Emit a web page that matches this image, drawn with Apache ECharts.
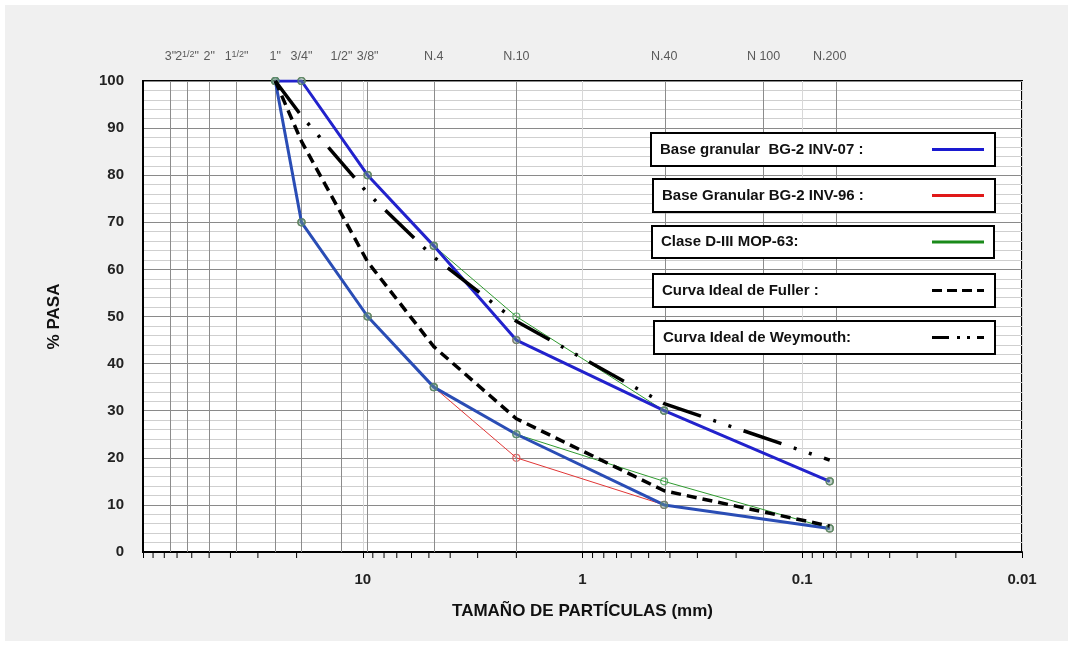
<!DOCTYPE html>
<html>
<head>
<meta charset="utf-8">
<script src="https://cdn.jsdelivr.net/npm/echarts@6/dist/echarts.min.js"></script>
<style>
html,body{margin:0;padding:0;background:#fff;}
#c{width:1073px;height:646px;}
</style>
</head>
<body>
<div id="c"></div>
<script>
// ---- data ----
const sieveSizes = [75, 63, 50, 37.5, 25, 19, 12.5, 9.5, 4.75, 2.0, 0.425, 0.15, 0.075];
const sieveLabels = ['3"', '2{s|1/2}"', '2"', '1{s|1/2}"', '1"', '3/4"', '1/2"', '3/8"', 'N.4', 'N.10', 'N.40', 'N 100', 'N.200'];
const sizes = [25, 19, 9.5, 4.75, 2.0, 0.425, 0.075];
const inv07Upper = [100, 100, 80, 65, 45, 30, 15];
const inv07Lower = [100, 70, 50, 35, 25, 10, 5];
const inv96Upper = [100, 100, 80, 65, 45, 30, 15];
const inv96Lower = [100, 70, 50, 35, 20, 10, 5];
const mopUpper = [100, 100, 80, 65, 50, 30, 15];
const mopLower = [100, 70, 50, 35, 25, 15, 5];
const fuller = [100, 87.2, 61.6, 43.6, 28.3, 13.0, 5.5];
const weymouth = [100, 92.6, 76.2, 62.6, 49.0, 31.5, 19.5];
const minorTicks = [90, 80, 70, 60, 50, 40, 30, 20, 9, 8, 7, 6, 5, 4, 3, 2, 0.9, 0.8, 0.7, 0.6, 0.5, 0.4, 0.3, 0.2, 0.09, 0.08, 0.07, 0.06, 0.05, 0.04, 0.03, 0.02];

const names = ['Base granular  BG-2 INV-07 :', 'Base Granular BG-2 INV-96 :', 'Clase D-III MOP-63:', 'Curva Ideal de Fuller :', 'Curva Ideal de Weymouth:'];
const legendColors = ['#1a1ad0', '#e01818', '#1a8a1a', '#000', '#000'];
const legendDash = [null, null, null, [10, 5], [17, 8, 3, 7, 3, 7]];

const pts = vals => sizes.map((s, i) => [s, vals[i]]);

const FONT = 'Arial, "Liberation Sans", sans-serif';

function lineSeries(name, vals, color, width, type, z) {
  return {
    type: 'line', name: name, data: pts(vals), symbol: 'none', z: z,
    lineStyle: { color: color, width: width, type: type || 'solid' },
    itemStyle: { color: color },
    silent: true, animation: false
  };
}
function markerSeries(valsList, border, fill, z) {
  let d = [];
  valsList.forEach(v => d = d.concat(pts(v)));
  return {
    type: 'scatter', name: 'm' + z, data: d, symbol: 'circle', symbolSize: 7, z: z,
    itemStyle: { color: fill, borderColor: border, borderWidth: 1.2 },
    silent: true, animation: false
  };
}

// legend boxes (decoration)
const boxes = [
  { x: 651, y: 133, w: 344, h: 33 },
  { x: 653, y: 179, w: 342, h: 33 },
  { x: 652, y: 226, w: 342, h: 32 },
  { x: 653, y: 274, w: 342, h: 33 },
  { x: 654, y: 321, w: 341, h: 33 }
];
const legendGraphics = [];
boxes.forEach((b, i) => {
  const cy = b.y + b.h / 2;
  legendGraphics.push({
    type: 'rect', z: 50, silent: true,
    shape: { x: b.x, y: b.y, width: b.w, height: b.h },
    style: { fill: '#fff', stroke: '#000', lineWidth: 2 }
  });
  legendGraphics.push({
    type: 'text', z: 51, silent: true, x: b.x + 9, y: cy,
    style: { text: names[i], fill: '#111', font: 'bold 15px ' + FONT, verticalAlign: 'middle', align: 'left' }
  });
  legendGraphics.push({
    type: 'line', z: 51, silent: true,
    shape: { x1: 932, y1: cy, x2: 984, y2: cy },
    style: { stroke: legendColors[i], lineWidth: 3, lineDash: legendDash[i] || null }
  });
});

const chart = echarts.init(document.getElementById('c'));
chart.setOption({
  animation: false,
  backgroundColor: '#fff',
  graphic: [{ type: 'rect', z: -100, silent: true, shape: { x: 5, y: 5, width: 1063, height: 636 }, style: { fill: '#f0f0f0' } }].concat(legendGraphics),
  grid: { left: 143, right: 51, top: 81, bottom: 94, show: true, backgroundColor: '#fff', borderColor: '#000', borderWidth: 2 },
  xAxis: {
    type: 'log', logBase: 10, min: 0.01, max: 100, inverse: true,
    name: 'TAMAÑO DE PARTÍCULAS (mm)', nameLocation: 'middle', nameGap: 51,
    nameTextStyle: { fontFamily: FONT, fontWeight: 'bold', fontSize: 17, color: '#111' },
    axisLine: { show: true, lineStyle: { color: '#000', width: 2 } },
    axisTick: { show: true, length: 6, lineStyle: { color: '#000' } },
    axisLabel: {
      margin: 20, fontFamily: FONT, fontWeight: 'bold', fontSize: 15, color: '#222',
      formatter: v => (Math.abs(v - 100) < 1e-6 ? '' : String(+v.toPrecision(3)))
    },
    splitLine: { show: true, lineStyle: { color: '#d8d8d8', width: 1 } }
  },
  yAxis: {
    type: 'value', min: 0, max: 100, interval: 10,
    name: '% PASA', nameLocation: 'middle', nameGap: 80,
    nameTextStyle: { fontFamily: FONT, fontWeight: 'bold', fontSize: 17, color: '#111' },
    axisLine: { show: true, lineStyle: { color: '#000', width: 2 } },
    axisTick: { show: false },
    axisLabel: { margin: 19, fontFamily: FONT, fontWeight: 'bold', fontSize: 15, color: '#222' },
    splitLine: { show: true, lineStyle: { color: '#8a8a8a', width: 1 } },
    minorTick: { show: false, splitNumber: 5 },
    minorSplitLine: { show: true, lineStyle: { color: '#cfcfcf', width: 1 } }
  },
  series: [
    {
      type: 'scatter', name: 'sieves', z: 1, silent: true,
      data: sieveSizes.map(s => [s, 100]),
      symbolSize: 1, itemStyle: { color: 'transparent' },
      label: {
        show: true, position: 'top', distance: 17,
        formatter: p => sieveLabels[p.dataIndex],
        fontFamily: FONT, fontSize: 12.5, color: '#333',
        rich: { s: { fontFamily: FONT, fontSize: 9, color: '#333', verticalAlign: 'top', lineHeight: 10 } }
      },
      markLine: {
        silent: true, symbol: 'none', label: { show: false },
        lineStyle: { color: '#8c8c8c', width: 1, type: 'solid' },
        data: sieveSizes.map(s => ({ xAxis: s }))
      }
    },
    {
      type: 'custom', name: 'minorTicks', silent: true, z: 2,
      data: minorTicks.map(v => [v, 0]),
      renderItem: (params, api) => {
        const p = api.coord([api.value(0), 0]);
        return { type: 'line', shape: { x1: p[0], y1: p[1] + 1, x2: p[0], y2: p[1] + 6 }, style: { stroke: '#000', lineWidth: 1 } };
      }
    },
    lineSeries(names[1], inv96Upper, '#e03535', 1, 'solid', 3),
    lineSeries(names[1], inv96Lower, '#e03535', 1, 'solid', 3),
    markerSeries([inv96Upper, inv96Lower], '#d84040', 'rgba(255,255,255,0)', 4),
    lineSeries(names[2], mopUpper, '#2e9a2e', 1, 'solid', 5),
    lineSeries(names[2], mopLower, '#2e9a2e', 1, 'solid', 5),
    markerSeries([mopUpper, mopLower], '#3a9a4a', 'rgba(255,255,255,0)', 6),
    lineSeries(names[0], inv07Upper, '#2222cc', 3, 'solid', 7),
    lineSeries(names[0], inv07Lower, '#2a4db5', 3, 'solid', 7),
    markerSeries([inv07Upper, inv07Lower], '#5a8a70', 'rgba(110,150,130,0.55)', 8),
    lineSeries(names[3], fuller, '#000', 3.5, [10, 6], 9),
    lineSeries(names[4], weymouth, '#000', 3.5, [40, 13, 3, 13, 3, 13], 9)
  ]
});
</script>
</body>
</html>
